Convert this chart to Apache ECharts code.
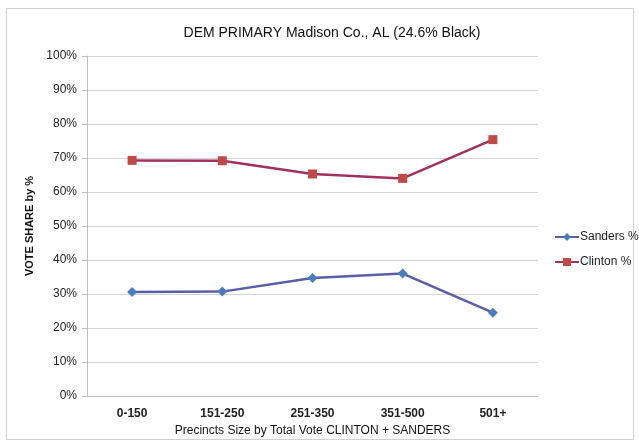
<!DOCTYPE html>
<html><head><meta charset="utf-8">
<script src="https://cdn.jsdelivr.net/npm/echarts@6/dist/echarts.min.js"></script>
<style>html,body{margin:0;padding:0;background:#fff}#c{width:639px;height:445px}</style>
</head><body><div id="c"></div>
<script>
const categories = ['0-150', '151-250', '251-350', '351-500', '501+'];
const sanders = [30.6, 30.7, 34.7, 36.0, 24.5];
const clinton = [69.3, 69.2, 65.3, 64.0, 75.4];
const yTicks = [0, 10, 20, 30, 40, 50, 60, 70, 80, 90, 100];

const chart = echarts.init(document.getElementById('c'), null, {renderer: 'canvas'});
const font = 'Liberation Sans, Arial, sans-serif';
chart.setOption({
  animation: false,
  textStyle: {fontFamily: font},
  graphic: [{type: 'rect', shape: {x: 6.5, y: 8.5, width: 627, height: 431}, style: {fill: 'none', stroke: '#d0d0d0', lineWidth: 1}}],
  title: {text: 'DEM PRIMARY Madison Co., AL (24.6% Black)', left: 327, top: 21, textAlign: 'center',
    textStyle: {fontFamily: font, fontSize: 14, fontWeight: 'normal', color: '#111'}},
  grid: {left: 87, top: 56, width: 451, height: 340},
  legend: {orient: 'vertical', left: 549, top: 226, itemWidth: 24, itemHeight: 10, itemGap: 13,
    textStyle: {fontFamily: font, fontSize: 12, color: '#222', padding: [0,0,0,-4]},
    data: ['Sanders %', 'Clinton %']},
  xAxis: {type: 'category', data: categories, boundaryGap: true,
    axisLine: {lineStyle: {color: '#bfbfbf'}}, axisTick: {show: false},
    axisLabel: {fontFamily: font, fontSize: 12, fontWeight: 'bold', color: '#222', margin: 12},
    name: 'Precincts Size by Total Vote CLINTON + SANDERS', nameLocation: 'middle', nameGap: 27,
    nameTextStyle: {fontFamily: font, fontSize: 12, color: '#111'}},
  yAxis: {type: 'value', min: 0, max: 100, interval: 10,
    axisLine: {show: true, lineStyle: {color: '#bfbfbf'}},
    axisTick: {show: true, length: 5, lineStyle: {color: '#bfbfbf'}},
    splitLine: {lineStyle: {color: '#d4d4d4'}},
    axisLabel: {fontFamily: font, fontSize: 12, color: '#222', margin: 10,
      formatter: v => yTicks.includes(v) ? v + '%' : ''},
    name: 'VOTE SHARE by %', nameLocation: 'middle', nameGap: 51, nameRotate: 90,
    nameTextStyle: {fontFamily: font, fontSize: 11, fontWeight: 'bold', color: '#111'}},
  series: [
    {name: 'Sanders %', type: 'line', data: sanders, symbol: 'diamond', symbolSize: 10,
      itemStyle: {color: '#4a7ebb'}, lineStyle: {color: '#5a5ea8', width: 2.5}},
    {name: 'Clinton %', type: 'line', data: clinton, symbol: 'rect', symbolSize: 9,
      itemStyle: {color: '#be4b48'}, lineStyle: {color: '#a1325f', width: 2.5}}
  ]
});
</script></body></html>
